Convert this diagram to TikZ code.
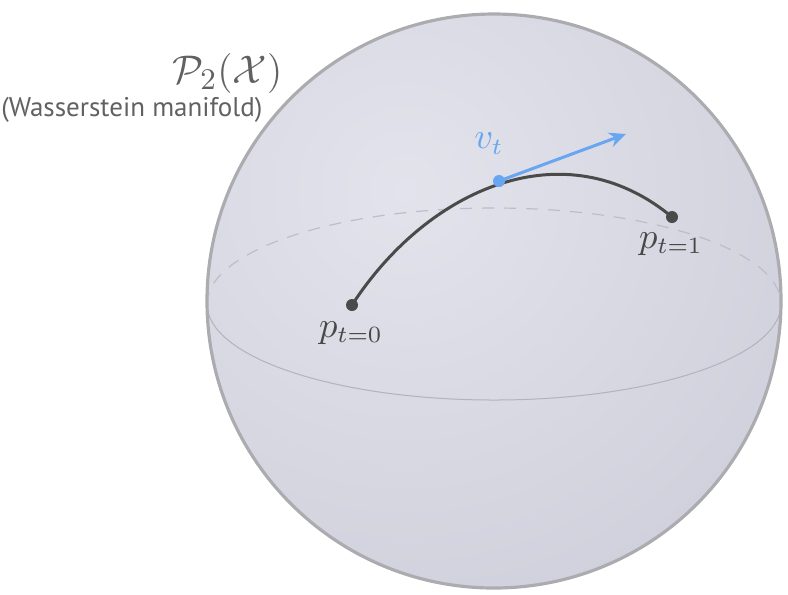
\documentclass[tikz,border=0pt]{standalone}
\usepackage{fontspec}
\setsansfont{PT Sans}
\usetikzlibrary{arrows.meta}
\definecolor{rim}{HTML}{ACACB0}
\definecolor{ballhi}{HTML}{E3E3EC}
\definecolor{balllo}{HTML}{BFBFCE}
\definecolor{equator}{HTML}{B2B2C0}
\definecolor{backline}{HTML}{BDBDC9}
\definecolor{pathgray}{HTML}{4A4A4A}
\definecolor{tanblue}{HTML}{68A6F2}
\definecolor{labelgray}{HTML}{484848}
\definecolor{notegray}{HTML}{616161}
\tikzset{
  dot/.style={circle, fill=pathgray, inner sep=0pt, minimum size=3.6pt},
  bluedot/.style={circle, fill=tanblue, inner sep=0pt, minimum size=3.6pt},
  mathlabel/.style={text=labelgray, font=\fontsize{10.5}{12}\selectfont, inner sep=0pt},
  geodesic/.style={draw=pathgray, line width=0.9pt},
  tangent/.style={draw=tanblue, line width=0.9pt, -{Stealth[length=5pt, width=4.5pt]}},
}
\begin{document}
\begin{tikzpicture}[x=0.3pt, y=-0.3pt]
  \useasboundingbox (0,0) rectangle (788,594);

  % the sphere
  \begin{scope}
    \clip (494,301) circle [radius=287];
    \shade[inner color=ballhi, outer color=balllo] (405,190) circle [radius=860];
  \end{scope}

  % equator: hidden back half dashed, front half solid
  \draw[backline, line width=0.35pt, dash pattern=on 3.6pt off 3pt]
    (207,304) arc [start angle=180, end angle=360, x radius=287, y radius=96];
  \draw[equator, line width=0.3pt]
    (207,304) arc [start angle=180, end angle=0, x radius=287, y radius=96];

  \draw[rim, line width=0.95pt] (494,301) circle [radius=287];

  % the curve of distributions and its velocity
  \node[dot] (p0) at (352,305) {};
  \node[dot] (p1) at (672,217) {};
  \path[geodesic] (p0.center) .. controls (428,188) and (565,128) .. (p1.center);
  \node[bluedot] (vt) at (499,181) {};
  \coordinate (tip) at (626,134);
  \draw[tangent] (vt.center) -- (tip);

  % labels
  \node[mathlabel, anchor=north] (l0) at (351,321) {$p_{t=0}$};
  \node[mathlabel, anchor=north] (l1) at (671,232) {$p_{t=1}$};
  \node[mathlabel, text=tanblue, anchor=south] (lv) at (489,155) {$v_t$};
  \node[text=notegray, font=\fontsize{12.7}{14}\selectfont, inner sep=0pt, anchor=north east]
    (space) at (283,53) {$\mathcal{P}_2(\mathcal{X})$};
  \node[text=notegray, font=\sffamily\fontsize{8.1}{9}\selectfont, inner sep=0pt, anchor=base east]
    (note) at (263,116) {(Wasserstein manifold)};
\end{tikzpicture}
\end{document}
